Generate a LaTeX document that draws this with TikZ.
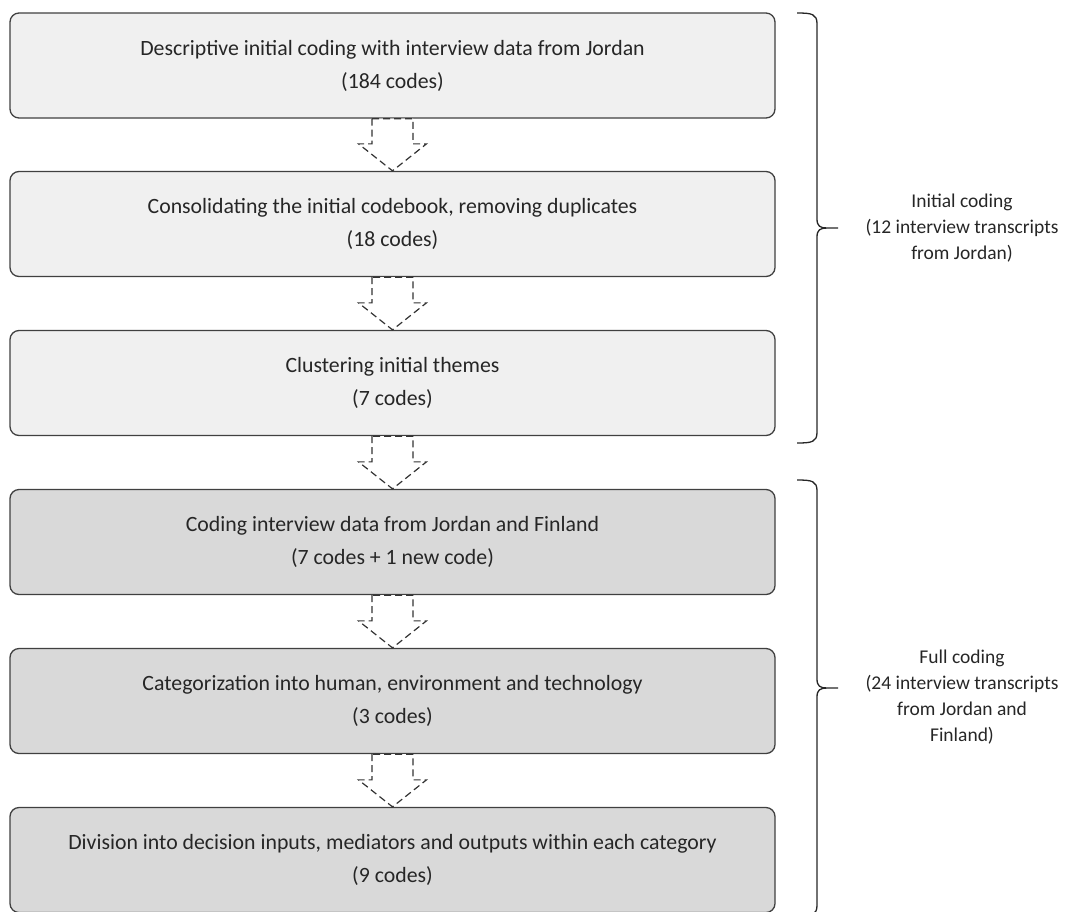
\documentclass[tikz,border=0pt]{standalone}
\usepackage{fontspec}
\setmainfont{Carlito}
\usetikzlibrary{calc}
\begin{document}
\begin{tikzpicture}[x=1pt,y=-1pt,
  box/.style={draw=black!75, line width=1.3pt, rounded corners=9pt, minimum width=765pt, minimum height=105pt, align=center, font=\fontsize{21.8}{33}\selectfont, text=black!85, inner sep=0pt},
  light/.style={box, fill=gray!12},
  darkb/.style={box, fill=gray!30},
  darr/.style={draw=black!80, dash pattern=on 7pt off 4pt, line width=1.2pt, fill=white},
  brace/.style={draw=black!85, line width=1.3pt},
  lab/.style={align=center, font=\fontsize{19.5}{26}\selectfont, text=black!85}]
\useasboundingbox (0,0) rectangle (1091,911);
\node[light] (b1) at (392.5,65.5) {Descriptive initial coding with interview data from Jordan\\(184 codes)};
\node[light] (b2) at (392.5,224) {Consolidating the initial codebook, removing duplicates\\(18 codes)};
\node[light] (b3) at (392.5,383) {Clustering initial themes\\(7 codes)};
\node[darkb] (b4) at (392.5,542) {Coding interview data from Jordan and Finland\\(7 codes + 1 new code)};
\node[darkb] (b5) at (392.5,701) {Categorization into human, environment and technology\\(3 codes)};
\node[darkb] (b6) at (392.5,860) {Division into decision inputs, mediators and outputs within each category\\(9 codes)};
\foreach \a/\b in {b1/b2,b2/b3,b3/b4,b4/b5,b5/b6}{
  \draw[darr] ($(\a.south)+(-20.5,0)$) -- ($(\b.north)+(-20.5,-27)$) -- ($(\b.north)+(-34,-27)$) -- (\b.north) -- ($(\b.north)+(34,-27)$) -- ($(\b.north)+(20.5,-27)$) -- ($(\a.south)+(20.5,0)$) -- cycle;
}
% braces
\coordinate (t1) at (838,228);
\draw[brace] (797,13) .. controls (812,13) and (817,14) .. (817,24) -- (817,219) .. controls (817,226) and (820,228) .. (827,228) -- (t1)
  (827,228) .. controls (820,228) and (817,230) .. (817,237) -- (817,432) .. controls (817,442) and (812,443) .. (797,443);
\node[lab] (l1) at (962,228) {Initial coding\\(12 interview transcripts\\from Jordan)};
\coordinate (t2) at (838,688);
\draw[brace] (797,480) .. controls (812,480) and (817,481) .. (817,491) -- (817,679) .. controls (817,686) and (820,688) .. (827,688) -- (t2)
  (827,688) .. controls (820,688) and (817,690) .. (817,697) -- (817,905) .. controls (817,915) and (812,916) .. (797,916);
\node[lab] (l2) at (962,697) {Full coding\\(24 interview transcripts\\from Jordan and\\Finland)};
\end{tikzpicture}
\end{document}
